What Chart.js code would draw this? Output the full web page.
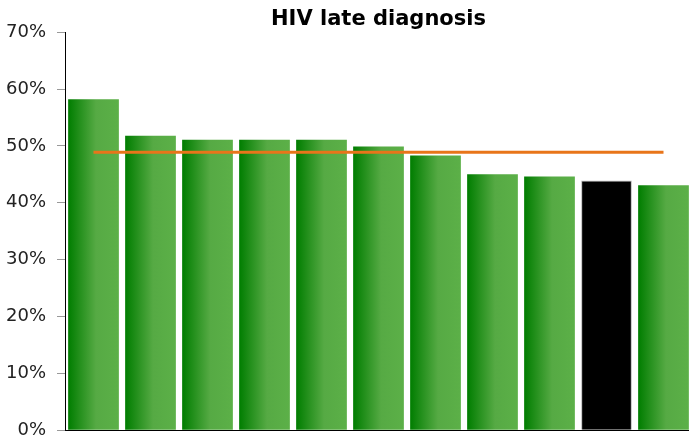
<!DOCTYPE html>
<html>
<head>
<meta charset="utf-8">
<script src="https://cdn.jsdelivr.net/npm/chart.js@4"></script>
<style>
  html, body { margin: 0; padding: 0; background: #fff; overflow: hidden; }
  #wrap { width: 689px; height: 437px; overflow: hidden; }
  #myChart { display: block; }
</style>
</head>
<body>
<div id="wrap"><canvas id="myChart" width="692" height="452"></canvas></div>
<script>
// values
const categories = ['1', '2', '3', '4', '5', '6', '7', '8', '9', '10', '11'];
const lateDiagnosis = [58.2, 51.8, 51.1, 51.1, 51.1, 49.9, 48.3, 45.0, 44.6, 43.9, 43.1];
const average = [48.9, 48.9, 48.9, 48.9, 48.9, 48.9, 48.9, 48.9, 48.9, 48.9, 48.9];
const highlightIndex = 9;

// horizontal gradient for each bar, dark green on the left
function barFill(c) {
  if (c.dataIndex === highlightIndex) return '#000000';
  const xs = c.chart.scales.x;
  if (!xs) return '#3a9a2a';
  const mid = xs.getPixelForValue(c.dataIndex);
  const half = xs.width / categories.length * 0.89 / 2;
  if (!isFinite(mid) || !isFinite(half) || half <= 0) return '#3a9a2a';
  const g = c.chart.ctx.createLinearGradient(mid - half, 0, mid + half, 0);
  g.addColorStop(0, '#007d00');
  g.addColorStop(0.55, '#56aa44');
  g.addColorStop(1, '#5cb048');
  return g;
}

var ctx = document.getElementById('myChart').getContext('2d');

// canvas is a bit larger than the window so the plot runs to the edges
var myChart = new Chart(ctx, {
  type: 'bar',
  data: {
    labels: categories,
    datasets: [
      {
        type: 'line',
        label: 'Average',
        data: average,
        borderColor: '#e8751a',
        borderWidth: 3,
        pointRadius: 0,
        fill: false,
        order: 0
      },
      {
        label: 'HIV late diagnosis',
        data: lateDiagnosis,
        backgroundColor: barFill,
        borderColor: c => c.dataIndex === highlightIndex ? '#bbbbbb' : 'rgba(0,0,0,0)',
        borderWidth: c => c.dataIndex === highlightIndex ? 1 : 0,
        barPercentage: 0.89,
        categoryPercentage: 1,
        order: 1
      }
    ]
  },
  options: {
    responsive: false,
    animation: false,
    layout: { padding: { top: 0, right: 0, bottom: 0, left: -5 } },
    plugins: {
      legend: { display: false },
      tooltip: { enabled: false },
      title: {
        display: true,
        fullSize: false,
        text: 'HIV late diagnosis',
        color: '#000',
        font: { family: 'DejaVu Sans', size: 21, weight: 'bold' },
        padding: { top: 7, bottom: 0 }
      }
    },
    scales: {
      x: {
        ticks: { display: false },
        grid: { display: false },
        border: { display: true, color: '#000', width: 1 }
      },
      y: {
        min: 0,
        max: 70,
        ticks: {
          stepSize: 10,
          color: '#222',
          padding: 11,
          font: { family: 'DejaVu Sans', size: 18 },
          callback: v => v + '%'
        },
        grid: { drawOnChartArea: false, drawTicks: true, tickLength: 8, tickColor: '#999' },
        border: { display: true, color: '#000', width: 1 }
      }
    }
  }
});
</script>
</body>
</html>
